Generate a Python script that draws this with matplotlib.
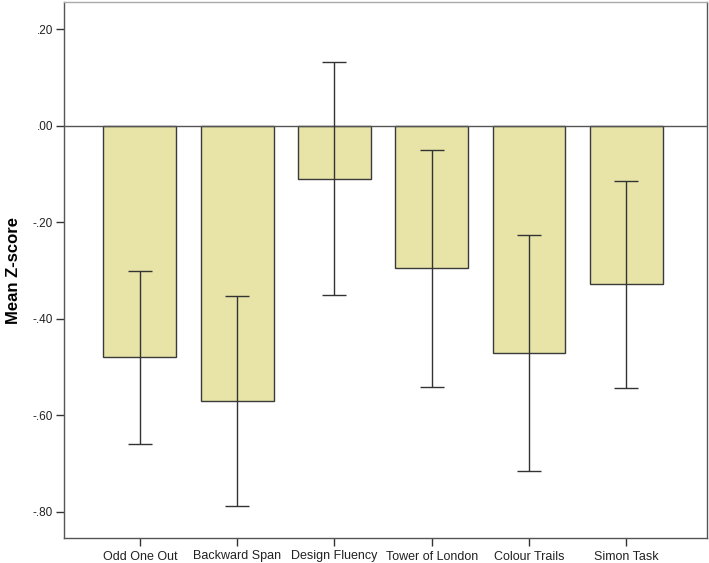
import matplotlib
matplotlib.use("Agg")
import matplotlib.pyplot as plt
import numpy as np

categories = ["Odd One Out", "Backward Span", "Design Fluency", "Tower of London", "Colour Trails", "Simon Task"]
means = [-0.478, -0.569, -0.110, -0.295, -0.471, -0.328]
err_upper = [-0.300, -0.353, 0.132, -0.050, -0.226, -0.114]
err_lower = [-0.659, -0.788, -0.350, -0.541, -0.716, -0.544]
yticks = [0.20, 0.0, -0.20, -0.40, -0.60, -0.80]
ytick_labels = [".20", ".00", "-.20", "-.40", "-.60", "-.80"]

plt.rcParams['font.family'] = ['Liberation Sans', 'DejaVu Sans']

fig = plt.figure(figsize=(7.09, 5.63), dpi=100)
ax = fig.add_axes([64/709, 1-538/563, (707-64)/709, (538-2)/563])

x = np.arange(len(categories))
m = np.array(means)
lo = m - np.array(err_lower)
hi = np.array(err_upper) - m

ax.bar(x, m, width=0.75, color="#E8E4A8", edgecolor="#3a3a3a", linewidth=1.0, zorder=2)
ax.axhline(0, color="#555555", linewidth=1.0, zorder=3)
ax.errorbar(x, m, yerr=[lo, hi], fmt="none", ecolor="#333333", elinewidth=1.0,
            capsize=8.4, capthick=1.0, zorder=4)

ax.set_xlim(-0.78, 5.83)
ax.set_ylim(-0.854, 0.257)
ax.set_yticks(yticks)
ax.set_yticklabels(ytick_labels)
ax.set_xticks(x)
ax.set_xticklabels(categories)
ax.tick_params(axis='both', direction='out', length=6, width=1, color="#333333",
               labelcolor="#222222", pad=3)
ax.tick_params(axis='x', labelsize=9)
ax.tick_params(axis='y', labelsize=8.5, pad=2)
ax.set_ylabel("Mean Z-score", fontsize=12, fontweight="bold", labelpad=8)

for s in ax.spines.values():
    s.set_color("#555555")
    s.set_linewidth(1.0)
ax.spines['top'].set_color("#aaaaaa")

fig.savefig("out.png", dpi=100)
